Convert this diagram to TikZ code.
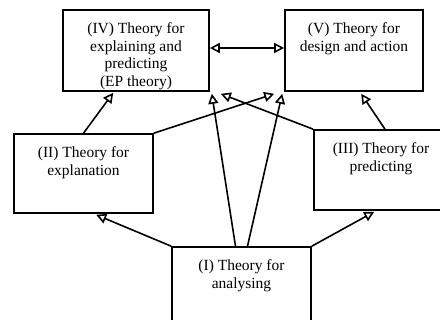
\documentclass[tikz,border=0pt]{standalone}
\usepackage{fontspec}
\setmainfont{Liberation Serif}
\usetikzlibrary{arrows.meta,calc}

\begin{document}
\begin{tikzpicture}[x=1pt, y=-1pt,
    theory/.style={rectangle, draw, line width=1.6pt, inner sep=0pt},
    boxtext/.style={anchor=north, yshift=-13pt, align=center, inner sep=0pt, font=\fontsize{15.5}{17.8}\selectfont},
    arrow/.style={->, >={Triangle[open, length=10pt, width=10pt]}, line width=1.6pt}
]
\useasboundingbox[fill=white] (0,0) rectangle (440,320);

% Upper theories
\node[theory, minimum width=146pt, minimum height=81pt, label={[boxtext]north:(IV) Theory for\\explaining and\\predicting\\(EP theory)}] (ep) at (136,50.5) {};
\node[theory, minimum width=138pt, minimum height=81pt, label={[boxtext]north:(V) Theory for\\design and action}] (design) at (354,50.5) {};

% Middle theories
\node[theory, minimum width=139pt, minimum height=79pt, label={[boxtext]north:(II) Theory for\\explanation}] (explanation) at (83.5,173.5) {};
\node[theory, minimum width=134pt, minimum height=80pt, label={[boxtext]north:(III) Theory for\\predicting}] (predicting) at (381,170) {};

% Base theory
\node[theory, minimum width=139pt, minimum height=80pt, label={[boxtext]north:(I) Theory for\\analysing}] (analysing) at (241.5,287) {};

% Arrows
\draw[arrow, <->] ([yshift=2.5pt]ep.east) -- ([yshift=2.5pt]design.west);

\draw[arrow] (explanation.north) -- ($(ep.south west)+(51,1)$);
\draw[arrow] (explanation.north east) -- ($(design.south west)+(-10,2)$);
\draw[arrow] (predicting.north west) -- ($(ep.south east)+(11,2)$);
\draw[arrow] ($(predicting.north)+(4,0)$) -- ($(design.south west)+(77,2)$);

\draw[arrow] ($(analysing.north)+(-6,0)$) -- ($(ep.south east)+(2,2)$);
\draw[arrow] ($(analysing.north)+(6,0)$) -- ($(design.south west)+(-2,2)$);
\draw[arrow] (analysing.north west) -- ($(explanation.south west)+(83,1)$);
\draw[arrow] (analysing.north east) -- ($(predicting.south west)+(61,1)$);

\end{tikzpicture}
\end{document}
